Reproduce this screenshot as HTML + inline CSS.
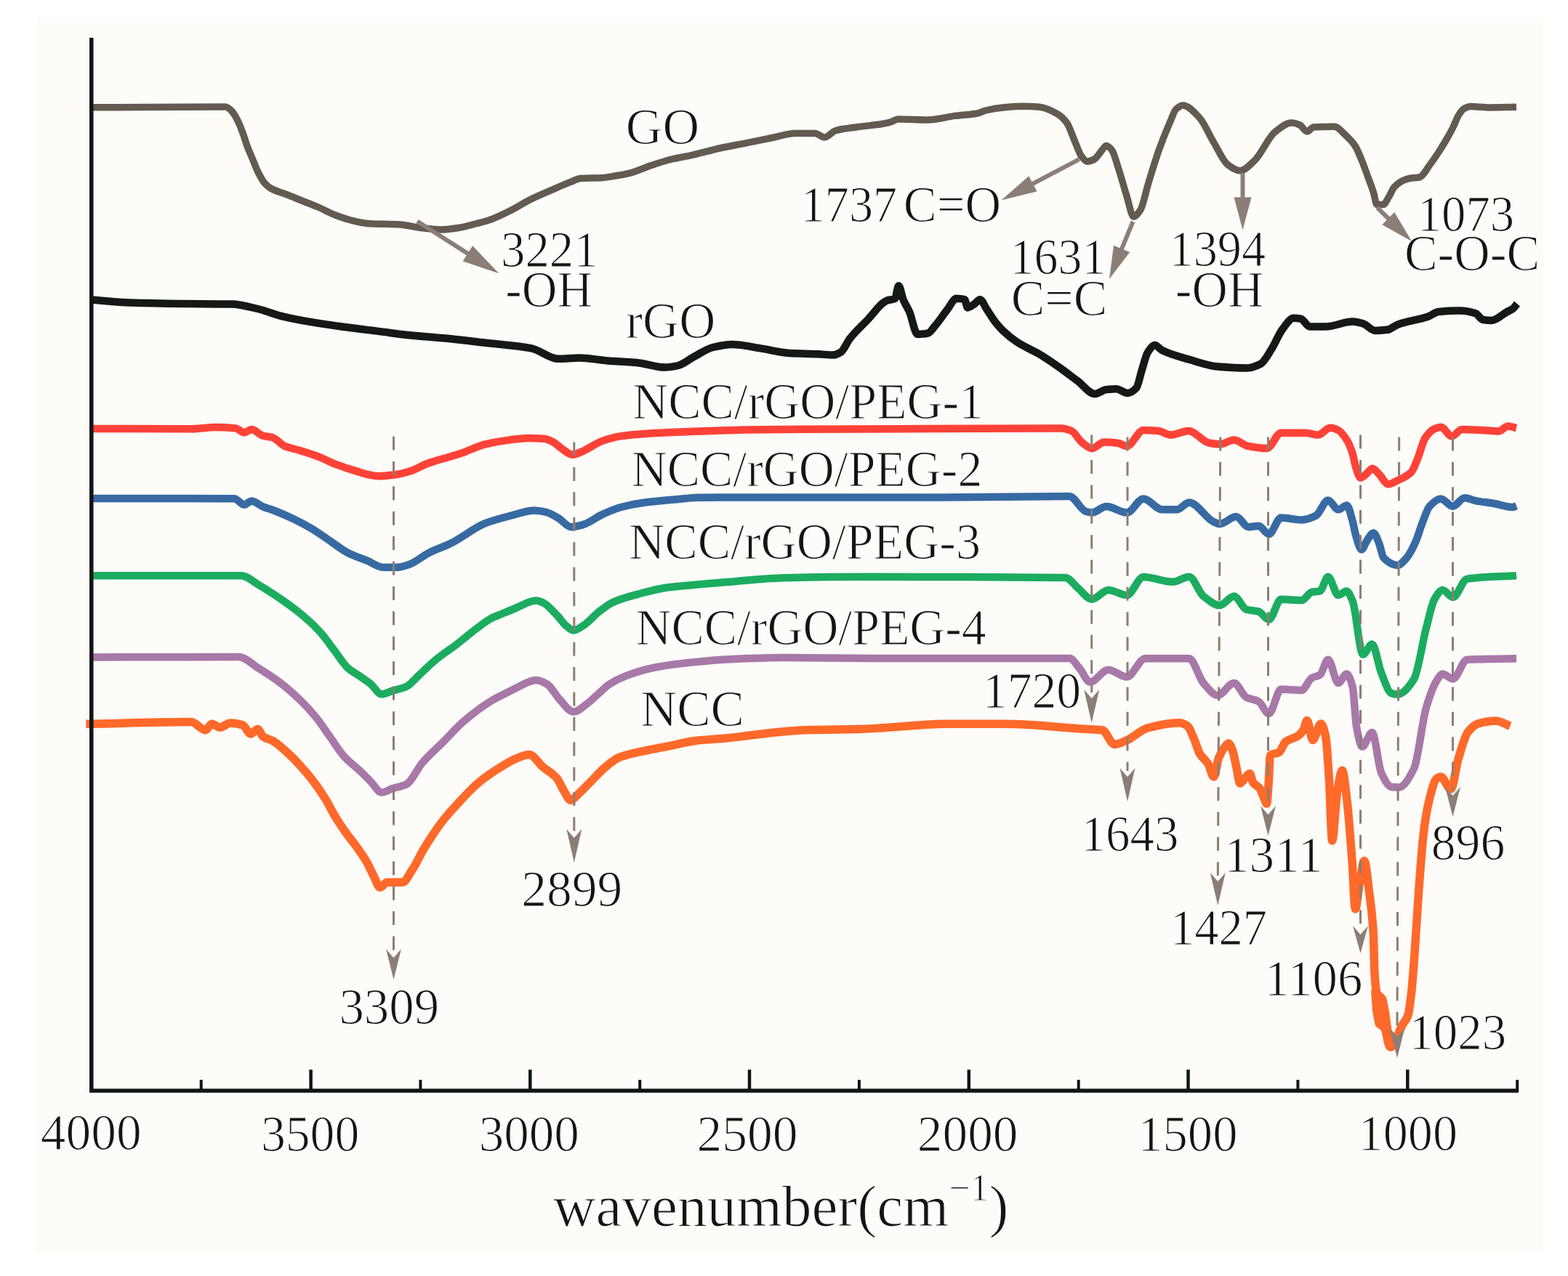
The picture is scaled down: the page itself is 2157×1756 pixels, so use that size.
<!DOCTYPE html><html><head><meta charset="utf-8"><style>html,body{margin:0;padding:0;background:#fff;}svg{display:block}text{font-family:"Liberation Serif","Times New Roman",serif;fill:#141414;stroke:#fdfcf8;stroke-width:1.2px}</style></head><body>
<svg xmlns="http://www.w3.org/2000/svg" width="2157" height="1756" viewBox="0 0 2157 1756">
<rect x="0" y="0" width="2157" height="1756" fill="#ffffff"/>
<rect x="51" y="24.5" width="2072" height="1699" fill="#fdfcf8"/>
<path d="M124.0,147.8 C149.3,147.7 174.7,147.6 200.0,147.5 C236.7,147.3 273.3,147.0 310.0,147.0 C313.0,147.0 316.0,150.1 319.0,153.0 C321.5,155.4 324.0,160.2 326.5,165.0 C329.0,169.8 331.5,176.3 334.0,183.0 C336.0,188.4 338.0,195.6 340.0,201.0 C342.5,207.7 345.0,213.0 347.5,219.0 C350.0,225.0 352.5,232.1 355.0,237.0 C358.0,242.9 361.0,248.7 364.0,252.0 C367.0,255.3 370.0,257.8 373.0,259.5 C379.5,263.1 386.0,264.5 392.5,267.0 C400.0,269.9 407.5,273.0 415.0,276.0 C422.5,279.0 430.0,281.8 437.5,285.0 C445.0,288.2 452.5,292.6 460.0,295.5 C467.5,298.4 475.0,301.1 482.5,303.0 C490.0,304.9 497.5,307.0 505.0,307.5 C520.0,308.4 535.0,308.1 550.0,309.0 C559.3,309.5 568.7,312.4 578.0,313.5 C587.3,314.6 596.7,316.0 606.0,316.0 C615.3,316.0 624.7,314.4 634.0,313.0 C641.3,311.9 648.7,309.4 656.0,307.5 C661.5,306.1 667.0,304.8 672.5,303.0 C681.9,299.9 691.2,295.1 700.6,290.5 C710.0,285.9 719.4,279.7 728.8,275.0 C738.2,270.4 747.5,266.4 756.9,262.3 C766.3,258.2 775.6,254.0 785.0,250.4 C789.7,248.6 794.3,245.7 799.0,245.5 C808.3,245.0 817.7,245.2 827.0,244.8 C833.0,244.5 839.0,243.3 845.0,242.3 C852.7,241.1 860.3,239.7 868.0,237.8 C877.3,235.4 886.7,230.6 896.0,227.5 C905.5,224.4 914.9,221.3 924.4,219.0 C933.8,216.8 943.1,215.5 952.5,213.4 C965.0,210.6 977.5,206.8 990.0,204.0 C1002.5,201.2 1015.0,199.1 1027.5,196.6 C1040.0,194.1 1052.5,191.5 1065.0,189.0 C1074.3,187.1 1083.7,183.4 1093.0,183.4 C1102.3,183.4 1111.7,183.4 1121.0,183.4 C1125.5,183.4 1129.9,189.0 1134.4,189.0 C1139.4,189.0 1144.4,181.1 1149.4,179.7 C1158.8,177.1 1168.1,176.4 1177.5,175.0 C1190.0,173.2 1202.5,172.5 1215.0,170.3 C1218.9,169.6 1222.7,168.7 1226.6,167.5 C1229.4,166.6 1232.2,164.0 1235.0,164.0 C1248.8,164.0 1262.5,165.0 1276.3,165.0 C1288.8,165.0 1301.3,161.0 1313.8,159.4 C1324.2,158.1 1334.6,157.9 1345.0,156.0 C1348.7,155.3 1352.3,152.9 1356.0,152.0 C1363.8,150.1 1371.6,148.7 1379.4,148.0 C1388.8,147.2 1398.1,146.3 1407.5,146.3 C1415.0,146.3 1422.5,146.7 1430.0,147.2 C1438.1,147.8 1446.3,152.0 1454.4,156.6 C1458.8,159.1 1463.1,162.9 1467.5,168.8 C1471.3,173.9 1475.0,186.4 1478.8,195.0 C1481.9,202.0 1484.9,211.8 1488.0,215.6 C1490.5,218.7 1493.1,222.2 1495.6,222.2 C1498.7,222.2 1501.9,220.9 1505.0,219.4 C1508.8,217.6 1512.5,210.4 1516.3,206.3 C1518.2,204.3 1520.0,200.6 1521.9,200.6 C1524.4,200.6 1526.9,203.4 1529.4,206.3 C1532.5,210.0 1535.7,223.0 1538.8,232.5 C1542.5,243.8 1546.3,258.2 1550.0,270.0 C1553.1,279.9 1556.3,298.1 1559.4,298.1 C1562.5,298.1 1565.7,293.5 1568.8,288.8 C1572.5,283.2 1576.3,263.4 1580.0,251.3 C1585.0,235.1 1590.0,218.3 1595.0,204.4 C1600.0,190.5 1605.0,178.3 1610.0,166.9 C1612.7,160.8 1615.3,152.3 1618.0,150.0 C1621.1,147.3 1624.2,145.0 1627.3,145.0 C1634.9,145.0 1642.4,154.0 1650.0,162.0 C1656.5,168.9 1663.0,184.9 1669.5,195.6 C1676.0,206.3 1682.5,221.8 1689.0,226.6 C1694.7,230.8 1700.3,235.0 1706.0,235.0 C1712.6,235.0 1719.2,227.1 1725.8,221.0 C1735.2,212.3 1744.6,189.0 1754.0,181.6 C1761.5,175.7 1768.9,169.0 1776.4,169.0 C1780.3,169.0 1784.1,170.4 1788.0,172.0 C1791.3,173.4 1794.7,181.0 1798.0,181.0 C1801.0,181.0 1804.0,175.2 1807.0,175.0 C1816.5,174.5 1826.0,174.3 1835.5,174.3 C1841.0,174.3 1846.5,181.9 1852.0,187.0 C1856.0,190.7 1860.0,194.5 1864.0,200.5 C1867.0,205.0 1870.0,212.8 1873.0,220.0 C1876.0,227.2 1879.0,235.8 1882.0,244.0 C1884.5,250.8 1887.0,257.0 1889.5,265.0 C1891.0,269.8 1892.5,281.5 1894.0,281.5 C1897.0,281.5 1900.0,281.5 1903.0,281.5 C1905.5,281.5 1908.0,274.9 1910.5,271.0 C1913.0,267.1 1915.5,260.2 1918.0,257.5 C1922.0,253.1 1926.0,250.3 1930.0,248.5 C1933.0,247.1 1936.0,246.0 1939.0,245.5 C1943.5,244.7 1948.0,244.9 1952.5,244.0 C1957.5,243.0 1962.5,232.6 1967.5,226.0 C1971.0,221.4 1974.5,216.3 1978.0,211.0 C1982.0,204.9 1986.0,198.4 1990.0,191.5 C1993.0,186.3 1996.0,181.0 1999.0,175.0 C2001.5,170.0 2004.0,162.4 2006.5,158.5 C2009.0,154.6 2011.5,150.8 2014.0,149.5 C2017.0,147.9 2020.0,146.5 2023.0,146.5 C2032.0,146.5 2041.0,148.0 2050.0,148.0 C2062.0,148.0 2074.0,147.5 2086.0,147.3" fill="none" stroke="#635a50" stroke-width="9.5" stroke-linejoin="round" stroke-linecap="butt"/>
<path d="M124.0,412.5 C142.2,413.8 160.4,415.9 178.6,416.5 C202.1,417.3 225.5,417.7 249.0,418.0 C272.3,418.2 295.7,418.1 319.0,418.5 C330.8,418.7 342.6,422.3 354.4,425.0 C366.1,427.7 377.9,432.9 389.6,435.7 C401.3,438.5 413.0,440.7 424.7,442.7 C440.3,445.4 456.0,447.7 471.6,449.8 C487.2,451.9 502.9,453.7 518.5,455.6 C534.1,457.5 549.8,459.9 565.4,461.5 C583.6,463.4 601.8,464.4 620.0,466.2 C635.2,467.7 650.4,469.7 665.6,471.5 C687.4,474.1 709.2,475.2 731.0,479.4 C743.3,481.8 755.7,493.8 768.0,493.8 C777.7,493.8 787.3,492.5 797.0,492.5 C810.0,492.5 823.0,495.4 836.0,496.4 C849.2,497.4 862.4,497.8 875.6,499.0 C888.7,500.2 901.9,505.6 915.0,505.6 C921.1,505.6 927.2,504.4 933.3,503.0 C940.3,501.4 947.3,494.9 954.3,491.2 C963.1,486.5 971.8,480.1 980.6,478.0 C989.3,476.0 998.1,474.0 1006.8,474.0 C1019.9,474.0 1033.1,477.4 1046.2,479.4 C1059.3,481.4 1072.5,485.3 1085.6,486.0 C1098.7,486.7 1111.9,486.6 1125.0,487.2 C1132.0,487.5 1139.0,488.6 1146.0,488.6 C1149.6,488.6 1153.1,486.7 1156.7,484.6 C1160.9,482.1 1165.2,470.9 1169.4,465.6 C1177.4,455.5 1185.3,448.5 1193.3,440.3 C1202.2,431.1 1211.1,416.9 1220.0,413.6 C1223.8,412.2 1227.5,412.8 1231.3,410.8 C1232.9,409.9 1234.6,393.2 1236.2,393.2 C1238.3,393.2 1240.4,407.1 1242.5,412.2 C1245.3,419.0 1248.2,422.5 1251.0,429.0 C1254.7,437.5 1258.5,460.0 1262.2,460.0 C1266.9,460.0 1271.6,459.5 1276.3,458.6 C1279.5,458.0 1282.8,452.5 1286.0,448.8 C1291.7,442.4 1297.3,433.5 1303.0,426.3 C1307.2,421.0 1311.4,410.8 1315.6,410.8 C1319.4,410.8 1323.2,411.2 1327.0,412.2 C1328.3,412.6 1329.7,423.4 1331.0,423.4 C1334.3,423.4 1337.7,420.0 1341.0,417.8 C1343.3,416.2 1345.7,412.2 1348.0,412.2 C1351.3,412.2 1354.5,421.5 1357.8,426.3 C1361.5,431.8 1365.3,438.2 1369.0,443.0 C1372.7,447.7 1376.3,451.9 1380.0,455.4 C1386.6,461.7 1393.1,466.9 1399.7,471.2 C1409.5,477.6 1419.4,481.2 1429.2,487.0 C1439.0,492.8 1448.9,499.7 1458.7,506.6 C1466.6,512.2 1474.5,518.4 1482.4,524.3 C1490.3,530.2 1498.1,542.0 1506.0,542.0 C1511.2,542.0 1516.5,536.7 1521.7,536.1 C1526.3,535.6 1530.9,535.2 1535.5,535.2 C1540.8,535.2 1546.0,541.0 1551.3,541.0 C1555.2,541.0 1559.1,538.2 1563.0,534.2 C1565.7,531.5 1568.3,516.9 1571.0,508.6 C1573.6,500.5 1576.2,489.0 1578.8,485.0 C1582.1,479.9 1585.4,475.1 1588.7,475.1 C1592.0,475.1 1595.2,480.4 1598.5,482.0 C1611.0,488.2 1623.5,491.2 1636.0,494.8 C1649.1,498.6 1662.2,503.5 1675.3,504.6 C1688.4,505.7 1701.5,506.6 1714.6,506.6 C1721.2,506.6 1727.7,504.0 1734.3,500.7 C1739.5,498.1 1744.8,487.3 1750.0,479.0 C1754.6,471.7 1759.3,459.6 1763.9,453.5 C1769.1,446.7 1774.4,437.7 1779.6,437.7 C1782.9,437.7 1786.1,438.1 1789.4,438.7 C1793.5,439.4 1797.6,449.5 1801.7,449.5 C1809.1,449.5 1816.6,449.5 1824.0,449.5 C1836.3,449.5 1848.5,442.5 1860.8,442.5 C1865.5,442.5 1870.3,443.9 1875.0,445.3 C1880.6,446.9 1886.1,455.0 1891.7,455.0 C1897.3,455.0 1903.0,454.5 1908.6,453.8 C1913.3,453.2 1918.0,448.4 1922.7,446.7 C1936.8,441.5 1950.8,440.5 1964.9,435.5 C1969.6,433.8 1974.3,429.5 1979.0,429.0 C1988.7,428.1 1998.3,427.6 2008.0,427.6 C2015.3,427.6 2022.5,429.0 2029.8,431.2 C2033.2,432.2 2036.6,439.5 2040.0,440.0 C2043.9,440.6 2047.7,441.0 2051.6,441.0 C2058.9,441.0 2066.1,432.9 2073.4,429.0 C2075.9,427.6 2078.5,426.9 2081.0,425.0 C2083.0,423.5 2085.0,420.3 2087.0,418.0" fill="none" stroke="#141816" stroke-width="10.5" stroke-linejoin="round" stroke-linecap="butt"/>
<path d="M125.0,590.0 C170.0,590.1 215.0,590.3 260.0,590.3 C272.3,590.3 284.7,588.0 297.0,588.0 C306.0,588.0 315.0,588.5 324.0,589.4 C328.0,589.8 332.0,595.3 336.0,595.3 C339.3,595.3 342.7,591.0 346.0,591.0 C351.1,591.0 356.2,598.1 361.3,599.5 C365.8,600.7 370.3,600.7 374.8,602.0 C380.4,603.6 386.0,611.6 391.6,613.9 C398.4,616.7 405.2,617.7 412.0,619.8 C420.4,622.4 428.8,625.0 437.2,628.2 C445.6,631.4 454.1,636.0 462.5,639.2 C470.9,642.4 479.4,645.3 487.8,647.6 C498.5,650.6 509.2,655.2 519.9,655.2 C528.9,655.2 538.0,654.0 547.0,652.7 C552.6,651.9 558.2,650.2 563.8,648.5 C572.2,645.9 580.6,640.5 589.0,637.5 C599.3,633.8 609.7,631.3 620.0,628.2 C624.6,626.8 629.2,625.5 633.8,624.0 C645.0,620.3 656.3,614.1 667.5,611.4 C678.8,608.7 690.0,606.8 701.3,605.4 C709.7,604.3 718.2,602.9 726.6,602.9 C733.9,602.9 741.2,603.2 748.5,603.8 C752.4,604.1 756.4,606.1 760.3,608.0 C764.8,610.2 769.3,615.2 773.8,618.1 C778.3,621.0 782.8,625.7 787.3,625.7 C792.4,625.7 797.4,622.6 802.5,620.6 C810.9,617.2 819.4,610.1 827.8,607.1 C836.3,604.1 844.7,601.7 853.2,600.4 C864.5,598.7 875.7,597.8 887.0,597.0 C911.3,595.4 935.7,594.5 960.0,593.6 C980.7,592.8 1001.3,591.9 1022.0,591.6 C1048.0,591.2 1074.0,591.0 1100.0,590.8 C1146.9,590.5 1193.7,590.4 1240.6,590.2 C1313.7,589.9 1386.9,589.5 1460.0,589.5 C1464.7,589.5 1469.3,591.1 1474.0,593.0 C1478.7,594.9 1483.3,604.8 1488.0,608.5 C1492.7,612.2 1497.3,617.0 1502.0,617.0 C1507.7,617.0 1513.3,608.5 1519.0,608.5 C1525.6,608.5 1532.2,609.1 1538.8,610.0 C1542.5,610.5 1546.3,614.0 1550.0,614.0 C1557.7,614.0 1565.3,592.0 1573.0,592.0 C1579.9,592.0 1586.7,592.4 1593.6,593.0 C1599.2,593.5 1604.8,598.6 1610.4,598.6 C1618.6,598.6 1626.8,593.0 1635.0,593.0 C1644.3,593.0 1653.7,607.8 1663.0,609.5 C1668.0,610.4 1673.0,611.3 1678.0,611.3 C1684.5,611.3 1691.1,605.6 1697.6,605.6 C1704.2,605.6 1710.7,612.8 1717.3,614.0 C1725.8,615.6 1734.2,617.0 1742.7,617.0 C1749.2,617.0 1755.8,595.8 1762.3,595.8 C1773.5,595.8 1784.8,595.8 1796.0,595.8 C1801.7,595.8 1807.3,598.6 1813.0,598.6 C1818.6,598.6 1824.3,588.8 1829.9,588.8 C1833.3,588.8 1836.6,590.1 1840.0,591.5 C1844.2,593.3 1848.5,599.0 1852.7,605.5 C1855.2,609.4 1857.8,615.6 1860.3,623.2 C1862.0,628.2 1863.6,638.7 1865.3,643.5 C1867.4,649.6 1869.6,657.5 1871.7,657.5 C1873.8,657.5 1875.9,655.2 1878.0,653.7 C1881.4,651.3 1884.8,644.8 1888.2,644.8 C1891.1,644.8 1894.1,649.6 1897.0,652.4 C1901.2,656.5 1905.5,666.3 1909.7,666.3 C1913.9,666.3 1918.2,663.3 1922.4,661.3 C1928.7,658.3 1935.1,656.2 1941.4,649.8 C1944.4,646.8 1947.3,637.9 1950.3,630.8 C1953.7,622.7 1957.0,608.1 1960.4,603.0 C1964.6,596.7 1968.8,592.1 1973.0,590.3 C1976.0,589.0 1979.0,587.7 1982.0,587.7 C1987.1,587.7 1992.1,600.4 1997.2,600.4 C2001.8,600.4 2006.5,590.9 2011.1,590.9 C2021.7,590.9 2032.2,591.7 2042.8,592.2 C2049.1,592.5 2055.5,593.4 2061.8,593.4 C2066.0,593.4 2070.3,586.5 2074.5,586.5 C2078.3,586.5 2082.2,588.2 2086.0,589.0" fill="none" stroke="#ff4238" stroke-width="10.5" stroke-linejoin="round" stroke-linecap="butt"/>
<path d="M125.0,686.0 C190.8,686.1 256.6,686.0 322.4,686.2 C326.9,686.2 331.5,694.6 336.0,694.6 C339.3,694.6 342.7,689.5 346.0,689.5 C351.1,689.5 356.2,695.0 361.3,697.1 C366.9,699.4 372.5,700.8 378.1,703.0 C386.6,706.3 395.0,710.0 403.5,714.0 C411.9,718.0 420.4,722.5 428.8,727.5 C437.2,732.5 445.7,738.8 454.1,744.4 C462.5,750.0 471.0,757.1 479.4,761.3 C487.8,765.5 496.3,767.9 504.7,771.4 C512.0,774.4 519.4,780.7 526.7,780.7 C533.5,780.7 540.2,780.7 547.0,780.7 C552.6,780.7 558.2,778.4 563.8,776.5 C572.2,773.6 580.6,765.6 589.0,761.3 C599.3,756.0 609.7,752.9 620.0,747.8 C635.8,740.0 651.7,726.4 667.5,720.2 C678.8,715.8 690.0,712.9 701.3,710.0 C712.5,707.1 723.8,702.5 735.0,702.5 C740.6,702.5 746.3,703.7 751.9,705.0 C757.5,706.3 763.2,710.2 768.8,713.5 C774.4,716.8 780.1,725.3 785.7,725.3 C791.3,725.3 796.9,723.5 802.5,721.9 C810.9,719.5 819.4,712.2 827.8,708.4 C836.3,704.5 844.7,700.6 853.2,698.3 C864.5,695.2 875.7,693.0 887.0,691.5 C903.8,689.2 920.7,687.9 937.5,686.5 C945.0,685.9 952.5,684.9 960.0,684.8 C980.7,684.5 1001.3,684.4 1022.0,684.4 C1113.7,684.4 1205.3,684.4 1297.0,684.4 C1355.0,684.4 1413.0,683.0 1471.0,683.0 C1478.7,683.0 1486.3,701.8 1494.0,704.0 C1496.7,704.7 1499.3,705.5 1502.0,705.5 C1508.7,705.5 1515.3,697.0 1522.0,697.0 C1531.3,697.0 1540.7,705.5 1550.0,705.5 C1557.7,705.5 1565.3,686.5 1573.0,686.5 C1581.7,686.5 1590.3,701.3 1599.0,701.3 C1605.7,701.3 1612.3,701.3 1619.0,701.3 C1624.6,701.3 1630.2,691.5 1635.8,691.5 C1647.0,691.5 1658.3,713.4 1669.5,718.2 C1672.3,719.4 1675.2,721.0 1678.0,721.0 C1685.5,721.0 1693.0,711.0 1700.5,711.0 C1706.1,711.0 1711.7,725.2 1717.3,725.2 C1722.0,725.2 1726.7,723.8 1731.4,723.8 C1736.1,723.8 1740.8,735.0 1745.5,735.0 C1751.1,735.0 1756.7,712.5 1762.3,712.5 C1771.7,712.5 1781.1,715.4 1790.5,715.4 C1797.0,715.4 1803.5,712.8 1810.0,709.7 C1815.7,707.0 1821.3,688.6 1827.0,688.6 C1831.7,688.6 1836.3,701.3 1841.0,701.3 C1844.9,701.3 1848.8,695.5 1852.7,695.5 C1855.2,695.5 1857.8,707.3 1860.3,715.8 C1862.0,721.4 1863.6,732.0 1865.3,737.3 C1867.9,745.5 1870.4,756.3 1873.0,756.3 C1875.5,756.3 1878.1,747.1 1880.6,743.6 C1883.5,739.6 1886.5,733.5 1889.4,733.5 C1891.9,733.5 1894.5,741.5 1897.0,747.4 C1899.1,752.4 1901.3,765.5 1903.4,767.7 C1909.7,774.3 1916.1,777.9 1922.4,777.9 C1926.6,777.9 1930.8,772.4 1935.0,767.7 C1939.2,763.0 1943.5,754.3 1947.7,744.9 C1950.7,738.3 1953.6,727.1 1956.6,719.6 C1960.0,711.1 1963.3,700.3 1966.7,696.7 C1971.8,691.3 1976.9,686.6 1982.0,686.6 C1987.5,686.6 1992.9,696.7 1998.4,696.7 C2003.9,696.7 2009.4,685.3 2014.9,685.3 C2019.9,685.3 2025.0,688.1 2030.0,689.1 C2038.5,690.8 2047.0,691.5 2055.5,693.0 C2063.9,694.5 2072.4,698.0 2080.8,698.0 C2082.5,698.0 2084.3,696.7 2086.0,696.0" fill="none" stroke="#376aa3" stroke-width="10.5" stroke-linejoin="round" stroke-linecap="butt"/>
<path d="M125.0,792.2 C194.0,792.2 262.9,792.2 331.9,792.2 C340.0,792.2 348.2,800.6 356.3,805.3 C365.7,810.7 375.0,816.7 384.4,823.1 C393.8,829.5 403.1,836.1 412.5,843.8 C421.9,851.5 431.2,859.7 440.6,870.0 C446.9,876.9 453.1,886.2 459.4,894.4 C465.6,902.5 471.9,913.1 478.1,918.8 C484.4,924.5 490.6,927.5 496.9,931.9 C501.3,935.0 505.6,937.8 510.0,941.3 C515.0,945.3 520.0,955.3 525.0,955.3 C530.0,955.3 535.0,952.1 540.0,950.6 C546.3,948.7 552.5,947.8 558.8,945.0 C565.0,942.2 571.3,933.8 577.5,928.1 C585.0,921.3 592.5,913.6 600.0,907.5 C609.4,899.8 618.7,894.1 628.1,886.9 C637.5,879.7 646.9,871.4 656.3,864.4 C662.5,859.8 668.8,854.5 675.0,851.3 C680.0,848.7 685.0,847.1 690.0,845.0 C696.3,842.3 702.7,839.5 709.0,837.0 C718.5,833.3 728.0,826.6 737.5,826.6 C740.7,826.6 743.8,828.1 747.0,829.4 C753.3,832.1 759.7,840.1 766.0,846.5 C770.5,851.0 774.9,858.2 779.4,861.7 C782.6,864.2 785.7,867.5 788.9,867.5 C793.9,867.5 799.0,863.0 804.0,859.8 C810.3,855.7 816.7,847.7 823.0,842.7 C829.3,837.7 835.7,832.3 842.0,829.4 C854.7,823.5 867.3,820.4 880.0,817.0 C892.7,813.6 905.3,810.3 918.0,808.5 C930.7,806.7 943.3,805.9 956.0,804.7 C970.7,803.4 985.3,802.2 1000.0,801.0 C1026.0,798.9 1052.0,795.7 1078.0,795.2 C1118.7,794.3 1159.3,793.8 1200.0,793.8 C1288.6,793.8 1377.1,793.9 1465.7,795.0 C1471.3,795.1 1477.0,804.4 1482.6,809.0 C1489.1,814.3 1495.5,824.7 1502.0,824.7 C1509.6,824.7 1517.1,812.0 1524.7,812.0 C1533.1,812.0 1541.6,819.0 1550.0,819.0 C1557.7,819.0 1565.3,794.0 1573.0,794.0 C1586.4,794.0 1599.9,800.8 1613.3,800.8 C1620.8,800.8 1628.3,793.8 1635.8,793.8 C1642.4,793.8 1648.9,815.2 1655.5,820.5 C1663.0,826.5 1670.5,833.1 1678.0,833.1 C1684.5,833.1 1691.1,820.5 1697.6,820.5 C1703.2,820.5 1708.9,837.2 1714.5,838.8 C1720.1,840.4 1725.8,840.0 1731.4,841.6 C1736.1,842.9 1740.8,852.8 1745.5,852.8 C1751.1,852.8 1756.7,824.7 1762.3,824.7 C1771.7,824.7 1781.1,826.1 1790.5,826.1 C1795.2,826.1 1799.8,815.9 1804.5,814.9 C1808.3,814.1 1812.0,814.3 1815.8,813.4 C1819.5,812.5 1823.3,793.8 1827.0,793.8 C1831.7,793.8 1836.3,819.0 1841.0,819.0 C1844.8,819.0 1848.6,813.4 1852.4,813.4 C1855.2,813.4 1858.0,820.7 1860.8,827.5 C1865.5,838.9 1870.2,900.6 1874.9,900.6 C1879.1,900.6 1883.3,886.6 1887.5,886.6 C1891.7,886.6 1896.0,915.6 1900.2,926.0 C1904.9,937.4 1909.5,952.8 1914.2,954.1 C1917.0,954.9 1919.9,955.5 1922.7,955.5 C1930.2,955.5 1937.7,946.3 1945.2,934.4 C1950.8,925.5 1956.4,885.3 1962.0,864.1 C1965.8,849.9 1969.5,831.1 1973.3,824.7 C1977.1,818.3 1980.8,812.0 1984.6,812.0 C1989.3,812.0 1993.9,821.9 1998.6,821.9 C2005.2,821.9 2011.7,797.6 2018.3,796.6 C2040.9,793.3 2063.4,793.7 2086.0,792.3" fill="none" stroke="#1cac60" stroke-width="10.5" stroke-linejoin="round" stroke-linecap="butt"/>
<path d="M125.0,904.5 C192.7,904.3 260.4,904.0 328.1,904.0 C337.5,904.0 346.9,914.2 356.3,920.0 C365.7,925.8 375.0,931.7 384.4,938.8 C393.8,945.9 403.1,954.0 412.5,963.1 C420.0,970.3 427.5,978.3 435.0,987.5 C441.3,995.2 447.5,1005.0 453.8,1013.8 C460.0,1022.5 466.3,1033.0 472.5,1040.0 C480.6,1049.1 488.8,1054.7 496.9,1062.5 C501.3,1066.7 505.6,1071.2 510.0,1075.6 C515.0,1080.6 520.0,1090.6 525.0,1090.6 C530.0,1090.6 535.0,1086.7 540.0,1085.0 C546.3,1082.9 552.5,1082.4 558.8,1079.4 C566.3,1075.8 573.8,1058.0 581.3,1049.4 C590.7,1038.6 600.0,1030.7 609.4,1021.3 C618.8,1011.9 628.1,1001.2 637.5,993.1 C650.0,982.3 662.5,972.6 675.0,965.0 C683.3,959.9 691.7,956.2 700.0,951.9 C703.0,950.4 706.0,948.7 709.0,947.3 C718.5,942.9 728.0,935.9 737.5,935.9 C742.6,935.9 747.6,938.7 752.7,941.6 C758.4,944.8 764.1,956.6 769.8,962.5 C776.2,969.1 782.5,979.6 788.9,979.6 C795.2,979.6 801.6,972.8 807.9,968.2 C812.9,964.6 818.0,959.3 823.0,954.9 C828.1,950.4 833.2,944.9 838.3,941.6 C845.9,936.7 853.5,933.1 861.1,930.2 C873.8,925.3 886.4,921.3 899.1,918.8 C911.8,916.3 924.4,914.6 937.1,913.1 C958.1,910.7 979.0,908.4 1000.0,907.4 C1026.0,906.1 1052.0,904.9 1078.0,904.9 C1118.7,904.9 1159.3,906.0 1200.0,906.0 C1290.4,906.0 1380.9,906.0 1471.3,906.0 C1476.0,906.0 1480.7,914.9 1485.4,920.3 C1490.1,925.6 1494.7,938.6 1499.4,938.6 C1507.8,938.6 1516.3,921.7 1524.7,921.7 C1533.1,921.7 1541.6,931.6 1550.0,931.6 C1558.5,931.6 1566.9,906.3 1575.4,906.3 C1595.5,906.3 1615.7,906.3 1635.8,906.3 C1642.4,906.3 1648.9,932.4 1655.5,940.0 C1662.0,947.5 1668.5,956.9 1675.0,956.9 C1682.5,956.9 1690.1,940.0 1697.6,940.0 C1703.2,940.0 1708.9,956.8 1714.5,959.7 C1720.1,962.6 1725.8,962.3 1731.4,965.3 C1736.1,967.8 1740.8,982.2 1745.5,982.2 C1751.1,982.2 1756.7,948.5 1762.3,948.5 C1771.7,948.5 1781.1,949.9 1790.5,949.9 C1795.2,949.9 1799.8,935.6 1804.5,933.0 C1808.3,930.9 1812.0,931.1 1815.8,928.8 C1819.5,926.5 1823.3,907.7 1827.0,907.7 C1831.7,907.7 1836.3,940.0 1841.0,940.0 C1844.8,940.0 1848.6,927.4 1852.4,927.4 C1855.2,927.4 1858.0,935.1 1860.8,945.7 C1862.5,952.3 1864.3,990.7 1866.0,1000.0 C1868.7,1014.3 1871.3,1027.5 1874.0,1027.5 C1878.5,1027.5 1883.0,1008.0 1887.5,1008.0 C1891.7,1008.0 1896.0,1054.9 1900.2,1063.8 C1904.9,1073.6 1909.5,1082.6 1914.2,1083.0 C1917.5,1083.3 1920.7,1083.5 1924.0,1083.5 C1931.0,1083.5 1938.0,1071.9 1945.0,1058.0 C1950.7,1046.7 1956.3,992.9 1962.0,973.8 C1966.7,957.9 1971.4,944.5 1976.1,937.2 C1978.9,932.8 1981.8,927.4 1984.6,927.4 C1989.3,927.4 1993.9,934.4 1998.6,934.4 C2005.2,934.4 2011.7,908.0 2018.3,907.7 C2040.9,906.6 2063.4,906.8 2086.0,906.3" fill="none" stroke="#a878a8" stroke-width="10.5" stroke-linejoin="round" stroke-linecap="butt"/>
<path d="M118.3,996.3 C166.5,995.4 214.8,993.5 263.0,993.5 C269.6,993.5 276.2,1004.7 282.8,1004.7 C285.6,1004.7 288.5,996.3 291.3,996.3 C295.0,996.3 298.8,1001.0 302.5,1001.0 C307.3,1001.0 312.1,995.0 316.9,995.0 C322.5,995.0 328.2,996.1 333.8,997.8 C337.5,998.9 341.3,1010.0 345.0,1010.0 C348.1,1010.0 351.3,1003.4 354.4,1003.4 C356.9,1003.4 359.4,1012.1 361.9,1013.8 C366.3,1016.8 370.6,1017.0 375.0,1019.4 C381.3,1022.8 387.5,1028.8 393.8,1034.4 C400.0,1039.9 406.3,1046.3 412.5,1053.1 C418.8,1059.9 425.0,1067.3 431.3,1075.6 C436.9,1083.0 442.5,1091.2 448.1,1100.3 C452.8,1107.9 457.5,1117.9 462.2,1125.6 C466.9,1133.3 471.6,1140.1 476.3,1146.7 C481.0,1153.2 485.6,1158.5 490.3,1165.0 C495.0,1171.6 499.7,1178.0 504.4,1186.1 C507.7,1191.8 510.9,1199.6 514.2,1205.8 C517.0,1211.2 519.9,1221.3 522.7,1221.3 C526.0,1221.3 529.2,1214.2 532.5,1214.2 C539.5,1214.2 546.6,1214.2 553.6,1214.2 C558.3,1214.2 563.0,1203.1 567.7,1196.0 C572.4,1189.0 577.0,1178.5 581.7,1170.6 C586.4,1162.6 591.1,1155.1 595.8,1148.1 C600.5,1141.1 605.2,1134.4 609.9,1128.5 C616.9,1119.6 624.0,1112.0 631.0,1104.5 C640.4,1094.5 649.7,1084.1 659.1,1076.4 C668.5,1068.7 677.8,1062.6 687.2,1056.7 C694.5,1052.2 701.7,1047.1 709.0,1044.3 C715.3,1041.8 721.7,1038.6 728.0,1038.6 C734.3,1038.6 740.7,1050.3 747.0,1055.7 C753.3,1061.1 759.7,1063.6 766.0,1070.9 C769.2,1074.6 772.3,1083.0 775.5,1088.0 C778.7,1093.0 781.8,1101.3 785.0,1101.3 C788.8,1101.3 792.7,1095.2 796.5,1091.8 C802.2,1086.7 807.9,1080.4 813.6,1074.7 C819.9,1068.4 826.3,1060.9 832.6,1055.7 C838.9,1050.5 845.3,1044.9 851.6,1042.4 C861.1,1038.6 870.6,1036.9 880.1,1034.7 C892.8,1031.8 905.4,1029.6 918.1,1027.1 C930.7,1024.6 943.4,1021.0 956.0,1019.5 C970.7,1017.7 985.3,1017.1 1000.0,1015.7 C1035.4,1012.4 1070.9,1005.7 1106.3,1004.7 C1132.3,1003.9 1158.4,1004.0 1184.4,1003.3 C1223.8,1002.3 1263.1,996.3 1302.5,996.3 C1328.8,996.3 1355.0,996.3 1381.3,996.3 C1418.8,996.3 1456.3,1001.0 1493.8,1003.3 C1501.3,1003.8 1508.8,1003.8 1516.3,1004.7 C1521.9,1005.4 1527.6,1024.4 1533.2,1024.4 C1538.8,1024.4 1544.4,1021.1 1550.0,1018.8 C1559.4,1014.9 1568.8,1004.5 1578.2,1002.0 C1593.0,998.0 1607.7,994.7 1622.5,994.7 C1626.2,994.7 1630.0,996.6 1633.7,999.2 C1636.7,1001.3 1639.7,1010.4 1642.7,1017.2 C1645.3,1023.1 1648.0,1033.1 1650.6,1037.5 C1654.4,1043.8 1658.1,1045.0 1661.9,1051.0 C1664.5,1055.2 1667.1,1069.0 1669.7,1069.0 C1672.0,1069.0 1674.2,1048.8 1676.5,1043.1 C1679.1,1036.5 1681.8,1031.9 1684.4,1028.5 C1686.3,1026.1 1688.1,1022.9 1690.0,1022.9 C1691.9,1022.9 1693.7,1028.2 1695.6,1033.0 C1697.5,1037.8 1699.3,1049.4 1701.2,1057.7 C1702.7,1064.4 1704.2,1078.0 1705.7,1078.0 C1708.0,1078.0 1710.2,1073.5 1712.5,1071.2 C1714.7,1069.0 1717.0,1064.5 1719.2,1064.5 C1720.7,1064.5 1722.2,1074.8 1723.7,1076.9 C1726.7,1081.1 1729.7,1080.9 1732.7,1084.7 C1735.0,1087.6 1737.2,1095.2 1739.5,1100.0 C1740.5,1102.1 1741.5,1106.0 1742.5,1106.0 C1743.3,1106.0 1744.2,1090.7 1745.0,1080.0 C1745.8,1069.7 1746.6,1040.4 1747.4,1039.7 C1751.5,1036.0 1755.6,1037.7 1759.7,1035.2 C1762.7,1033.3 1765.7,1022.9 1768.7,1020.6 C1774.3,1016.3 1780.0,1016.6 1785.6,1012.7 C1788.2,1010.9 1790.9,1008.1 1793.5,1003.7 C1795.0,1001.2 1796.5,991.4 1798.0,991.4 C1800.6,991.4 1803.3,1018.4 1805.9,1018.4 C1809.6,1018.4 1813.4,995.9 1817.1,995.9 C1819.3,995.9 1821.6,1004.2 1823.8,1015.0 C1825.3,1022.3 1826.8,1048.1 1828.3,1071.2 C1829.7,1093.3 1831.2,1157.0 1832.6,1157.0 C1834.9,1157.0 1837.2,1104.5 1839.5,1090.6 C1841.8,1076.7 1844.1,1060.2 1846.4,1060.2 C1848.7,1060.2 1851.0,1085.2 1853.3,1104.5 C1855.6,1123.8 1857.9,1156.4 1860.2,1187.5 C1861.6,1206.4 1863.0,1251.0 1864.4,1251.0 C1866.3,1251.0 1868.1,1227.9 1870.0,1217.9 C1872.3,1205.7 1874.5,1184.7 1876.8,1184.7 C1879.1,1184.7 1881.4,1211.0 1883.7,1229.0 C1885.6,1243.6 1887.4,1253.0 1889.3,1284.3 C1889.9,1293.8 1890.4,1331.3 1891.0,1340.0 C1892.0,1355.3 1893.0,1363.3 1894.0,1368.0 C1896.3,1379.0 1898.7,1379.5 1901.0,1388.0 C1902.7,1394.1 1904.3,1403.1 1906.0,1412.0 C1907.3,1419.1 1908.7,1432.6 1910.0,1436.0 C1911.0,1438.5 1912.0,1441.0 1913.0,1441.0 C1915.7,1441.0 1918.3,1432.9 1921.0,1428.0 C1923.7,1423.1 1926.3,1416.1 1929.0,1411.0 C1931.7,1405.9 1934.3,1404.8 1937.0,1397.0 C1938.5,1392.6 1940.0,1379.9 1941.5,1367.0 C1943.0,1354.1 1944.5,1332.2 1946.0,1312.0 C1947.8,1287.3 1949.7,1253.6 1951.5,1229.0 C1953.8,1198.1 1956.1,1164.4 1958.4,1146.0 C1960.7,1127.6 1963.0,1113.9 1965.3,1104.5 C1969.0,1089.3 1972.7,1073.8 1976.4,1071.3 C1978.3,1070.1 1980.1,1069.0 1982.0,1069.0 C1986.6,1069.0 1991.2,1086.0 1995.8,1086.0 C1999.2,1086.0 2002.6,1056.4 2006.0,1045.0 C2010.3,1030.5 2014.7,1013.7 2019.0,1008.0 C2023.7,1001.8 2028.3,997.4 2033.0,996.0 C2041.2,993.6 2049.5,992.0 2057.7,992.0 C2064.3,992.0 2070.8,996.7 2077.4,999.1" fill="none" stroke="#ff692a" stroke-width="11.5" stroke-linejoin="round" stroke-linecap="butt"/>
<path d="M1886,1362 L1899,1364 L1907,1372 L1911,1392 L1914,1414 L1918,1438 L1913,1446 L1906,1442 L1900,1418 L1892,1412 L1888,1392 Z" fill="#ff692a"/>
<line x1="541.5" y1="600.5" x2="541.5" y2="1310" stroke="#8c7e76" stroke-width="3" stroke-dasharray="19 15.4"/>
<polygon points="541.5,1348 552.0,1306 541.5,1318 531.0,1306" fill="#8c7e76"/>
<line x1="789.8" y1="608.5" x2="789.8" y2="1145" stroke="#8c7e76" stroke-width="3" stroke-dasharray="19 15.4"/>
<polygon points="789.8,1187 800.3,1141 789.8,1153 779.3,1141" fill="#8c7e76"/>
<line x1="1501.7" y1="598.6" x2="1501.7" y2="953" stroke="#8c7e76" stroke-width="3" stroke-dasharray="19 15.4"/>
<polygon points="1501.7,995 1512.2,949 1501.7,961 1491.2,949" fill="#8c7e76"/>
<line x1="1551" y1="601.4" x2="1551" y2="1061" stroke="#8c7e76" stroke-width="3" stroke-dasharray="19 15.4"/>
<polygon points="1551,1103 1561.5,1057 1551,1069 1540.5,1057" fill="#8c7e76"/>
<line x1="1678.8" y1="601.4" x2="1675.3" y2="1205" stroke="#8c7e76" stroke-width="3" stroke-dasharray="19 15.4"/>
<polygon points="1675.3,1246 1685.8,1201 1675.3,1213 1664.8,1201" fill="#8c7e76"/>
<line x1="1744.5" y1="601.4" x2="1744.5" y2="1113" stroke="#8c7e76" stroke-width="3" stroke-dasharray="19 15.4"/>
<polygon points="1744.5,1150 1755.0,1109 1744.5,1121 1734.0,1109" fill="#8c7e76"/>
<line x1="1871.5" y1="598.6" x2="1871.5" y2="1278" stroke="#8c7e76" stroke-width="3" stroke-dasharray="19 15.4"/>
<polygon points="1871.5,1312 1882.0,1274 1871.5,1286 1861.0,1274" fill="#8c7e76"/>
<line x1="1924.7" y1="601.4" x2="1922" y2="1418.5" stroke="#8c7e76" stroke-width="3" stroke-dasharray="19 15.4"/>
<polygon points="1922,1456 1932.5,1414.5 1922,1426.5 1911.5,1414.5" fill="#8c7e76"/>
<line x1="1998.5" y1="601.4" x2="1998.5" y2="1087" stroke="#8c7e76" stroke-width="3" stroke-dasharray="19 15.4"/>
<polygon points="1998.5,1124 2009.0,1083 1998.5,1095 1988.0,1083" fill="#8c7e76"/>
<line x1="574" y1="304.5" x2="645.0" y2="349.9" stroke="#8c7e76" stroke-width="6"/>
<polygon points="686.3,376.3 636.6,359.4 650.1,338.3" fill="#8c7e76"/>
<line x1="1484.4" y1="219.4" x2="1419.1" y2="253.7" stroke="#8c7e76" stroke-width="6"/>
<polygon points="1377.5,275.6 1415.3,242.2 1426.5,263.4" fill="#8c7e76"/>
<line x1="1558.5" y1="305" x2="1542.4" y2="344.2" stroke="#8c7e76" stroke-width="6"/>
<polygon points="1526.0,384.0 1532.0,337.8 1554.2,346.9" fill="#8c7e76"/>
<line x1="1709.5" y1="238" x2="1709.5" y2="273.5" stroke="#8c7e76" stroke-width="6"/>
<polygon points="1709.5,316.5 1697.5,271.5 1721.5,271.5" fill="#8c7e76"/>
<line x1="1894.5" y1="285.7" x2="1911.2" y2="302.0" stroke="#8c7e76" stroke-width="6"/>
<polygon points="1942.0,332.0 1901.4,309.2 1918.2,292.0" fill="#8c7e76"/>
<path d="M125.8,54.7 V1501 H2086.3" fill="none" stroke="#111614" stroke-width="5.5" stroke-linecap="square"/>
<line x1="276.7" y1="1486" x2="276.7" y2="1501" stroke="#111614" stroke-width="4"/>
<line x1="427.6" y1="1472" x2="427.6" y2="1501" stroke="#111614" stroke-width="4.5"/>
<line x1="578.4" y1="1486" x2="578.4" y2="1501" stroke="#111614" stroke-width="4"/>
<line x1="729.3" y1="1472" x2="729.3" y2="1501" stroke="#111614" stroke-width="4.5"/>
<line x1="880.2" y1="1486" x2="880.2" y2="1501" stroke="#111614" stroke-width="4"/>
<line x1="1031.0" y1="1472" x2="1031.0" y2="1501" stroke="#111614" stroke-width="4.5"/>
<line x1="1181.9" y1="1486" x2="1181.9" y2="1501" stroke="#111614" stroke-width="4"/>
<line x1="1332.8" y1="1472" x2="1332.8" y2="1501" stroke="#111614" stroke-width="4.5"/>
<line x1="1483.7" y1="1486" x2="1483.7" y2="1501" stroke="#111614" stroke-width="4"/>
<line x1="1634.5" y1="1472" x2="1634.5" y2="1501" stroke="#111614" stroke-width="4.5"/>
<line x1="1785.4" y1="1486" x2="1785.4" y2="1501" stroke="#111614" stroke-width="4"/>
<line x1="1936.3" y1="1472" x2="1936.3" y2="1501" stroke="#111614" stroke-width="4.5"/>
<line x1="2087.2" y1="1486" x2="2087.2" y2="1501" stroke="#111614" stroke-width="4"/>
<text transform="translate(55.72,1582.47) scale(1.0230,1.0250)" font-size="67.9">4000</text>
<text transform="translate(358.88,1583.67) scale(0.9972,1.0250)" font-size="67.9">3500</text>
<text transform="translate(658.74,1583.67) scale(1.0174,1.0250)" font-size="67.9">3000</text>
<text transform="translate(958.49,1583.67) scale(1.0249,1.0250)" font-size="67.9">2500</text>
<text transform="translate(1261.85,1583.87) scale(1.0205,1.0250)" font-size="67.9">2000</text>
<text transform="translate(1565.13,1583.87) scale(1.0119,1.0250)" font-size="67.9">1500</text>
<text transform="translate(1868.52,1582.87) scale(1.0055,1.0250)" font-size="67.9">1000</text>
<text transform="translate(860.79,198.14) scale(1.0164,1.0100)" font-size="69.0">GO</text>
<text transform="translate(689.10,367.34) scale(0.9677,1.0100)" font-size="69.0">3221</text>
<text transform="translate(695.33,421.94) scale(0.9781,1.0100)" font-size="69.0">-OH</text>
<text transform="translate(861.00,464.94) scale(1.0046,1.0100)" font-size="69.0">rGO</text>
<text transform="translate(1101.73,305.14) scale(0.9595,1.0100)" font-size="69.0">1737</text>
<text transform="translate(1242.85,305.14) scale(0.9966,1.0100)" font-size="69.0">C=O</text>
<text transform="translate(1389.60,377.24) scale(0.9546,1.0100)" font-size="69.0">1631</text>
<text transform="translate(1390.82,433.94) scale(1.0111,1.0100)" font-size="69.0">C=C</text>
<text transform="translate(1608.51,365.94) scale(0.9611,1.0100)" font-size="69.0">1394</text>
<text transform="translate(1616.80,421.94) scale(0.9906,1.0100)" font-size="69.0">-OH</text>
<text transform="translate(1949.67,318.14) scale(0.9679,1.0100)" font-size="69.0">1073</text>
<text transform="translate(1931.88,372.34) scale(0.9918,1.0100)" font-size="69.0">C-O-C</text>
<text transform="translate(870.30,575.54) scale(0.9839,1.0100)" font-size="69.0">NCC/rGO/PEG-1</text>
<text transform="translate(868.84,668.94) scale(0.9836,1.0100)" font-size="69.0">NCC/rGO/PEG-2</text>
<text transform="translate(865.14,769.44) scale(0.9861,1.0100)" font-size="69.0">NCC/rGO/PEG-3</text>
<text transform="translate(874.56,886.94) scale(0.9829,1.0100)" font-size="69.0">NCC/rGO/PEG-4</text>
<text transform="translate(881.26,999.24) scale(1.0053,1.0100)" font-size="69.0">NCC</text>
<text transform="translate(1351.81,973.54) scale(0.9814,1.0100)" font-size="69.0">1720</text>
<text transform="translate(1487.58,1170.54) scale(0.9703,1.0100)" font-size="69.0">1643</text>
<text transform="translate(1609.95,1299.54) scale(0.9648,1.0100)" font-size="69.0">1427</text>
<text transform="translate(1683.97,1200.34) scale(1.0036,1.0100)" font-size="69.0">1311</text>
<text transform="translate(1739.40,1370.34) scale(0.9967,1.0100)" font-size="69.0">1106</text>
<text transform="translate(1938.38,1443.94) scale(0.9702,1.0100)" font-size="69.0">1023</text>
<text transform="translate(1968.72,1182.94) scale(0.9812,1.0100)" font-size="69.0">896</text>
<text transform="translate(466.40,1408.74) scale(0.9983,1.0100)" font-size="69.0">3309</text>
<text transform="translate(717.32,1247.24) scale(1.0071,1.0100)" font-size="69.0">2899</text>
<text x="761" y="1686.6" font-size="81">wavenumber(cm<tspan font-size="52" dy="-34.5">−1</tspan><tspan dy="34.5">)</tspan></text>
</svg></body></html>
